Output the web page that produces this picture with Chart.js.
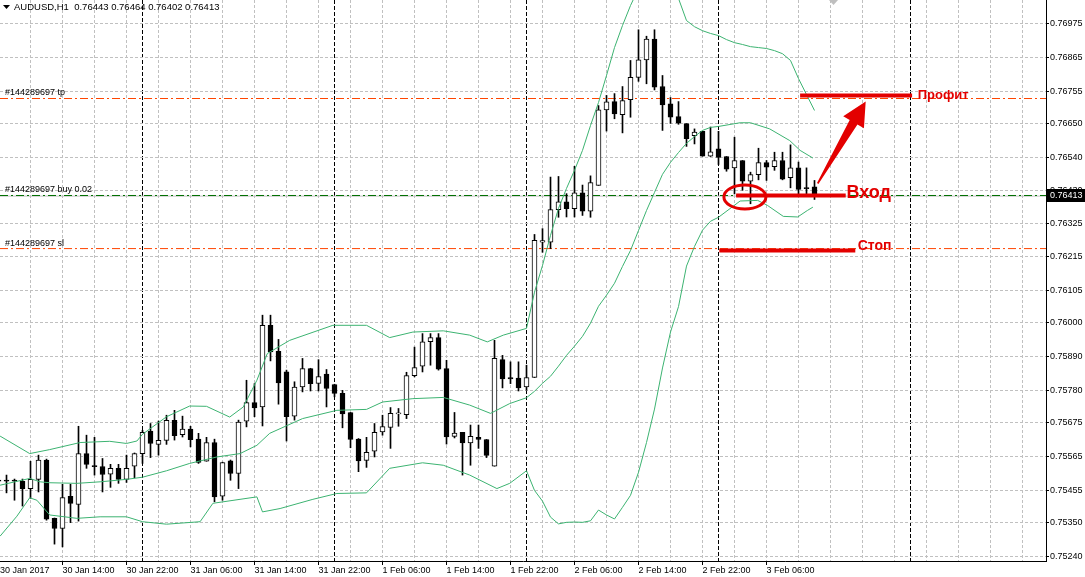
<!DOCTYPE html>
<html>
<head>
<meta charset="utf-8">
<script src="https://cdn.jsdelivr.net/npm/chart.js@4.4.0/dist/chart.umd.min.js"></script>
<style>
html, body { margin: 0; padding: 0; background: #ffffff; overflow: hidden; }
canvas { display: block; }
</style>
</head>
<body>
<canvas id="grafico" width="1085" height="577"></canvas>
<script>
// AUDUSD H1, velas desde 30 Jan 06:00 (indice -1) hasta 3 Feb 11:00 (indice 101)
let aperturas = [
    0.75488,
    0.75488, 0.75488, 0.75484, 0.75460, 0.75490, 0.75553, 0.75363, 0.75330, 0.75435, 0.75408,
    0.75574, 0.75535, 0.75532, 0.75507, 0.75526, 0.75490, 0.75533, 0.75574, 0.75647, 0.75604,
    0.75617, 0.75682, 0.75636, 0.75654, 0.75621, 0.75549, 0.75610, 0.75435, 0.75550, 0.75509,
    0.75680, 0.75740, 0.75726, 0.75992, 0.75907, 0.75840, 0.75696, 0.75791, 0.75851, 0.75803,
    0.75833, 0.75799, 0.75770, 0.75708, 0.75621, 0.75552, 0.75582, 0.75645, 0.75659, 0.75703,
    0.75701, 0.75828, 0.75859, 0.75939, 0.75952, 0.75851, 0.75630, 0.75643, 0.75609, 0.75627,
    0.75620, 0.75533, 0.75880, 0.75822, 0.75820, 0.75791, 0.75822, 0.76263, 0.76263, 0.76369,
    0.76394, 0.76372, 0.76424, 0.76364, 0.76448, 0.76694, 0.76721, 0.76678, 0.76727, 0.76800,
    0.76857, 0.76925, 0.76770, 0.76714, 0.76672, 0.76649, 0.76610, 0.76624, 0.76543, 0.76567,
    0.76542, 0.76505, 0.76529, 0.76462, 0.76483, 0.76522, 0.76509, 0.76529, 0.76473, 0.76505,
    0.76441, 0.76443
];
let maximos = [
    0.75503,
    0.75504, 0.75491, 0.75491, 0.75549, 0.75569, 0.75556, 0.75364, 0.75474, 0.75474, 0.75663,
    0.75634, 0.75627, 0.75558, 0.75539, 0.75539, 0.75569, 0.75576, 0.75650, 0.75672, 0.75680,
    0.75699, 0.75715, 0.75696, 0.75663, 0.75640, 0.75627, 0.75621, 0.75546, 0.75553, 0.75683,
    0.75813, 0.75802, 0.76025, 0.76025, 0.75946, 0.75846, 0.75808, 0.75884, 0.75852, 0.75880,
    0.75848, 0.75800, 0.75780, 0.75708, 0.75623, 0.75627, 0.75672, 0.75699, 0.75724, 0.75721,
    0.75839, 0.75921, 0.75965, 0.75965, 0.75965, 0.75878, 0.75708, 0.75643, 0.75667, 0.75667,
    0.75620, 0.75943, 0.75894, 0.75873, 0.75873, 0.75862, 0.76288, 0.76307, 0.76475, 0.76477,
    0.76421, 0.76510, 0.76449, 0.76479, 0.76708, 0.76741, 0.76747, 0.76770, 0.76855, 0.76955,
    0.76934, 0.76955, 0.76806, 0.76734, 0.76721, 0.76649, 0.76632, 0.76624, 0.76638, 0.76624,
    0.76542, 0.76605, 0.76529, 0.76491, 0.76569, 0.76529, 0.76556, 0.76556, 0.76580, 0.76524,
    0.76505, 0.76464
];
let minimos = [
    0.75471,
    0.75446, 0.75422, 0.75403, 0.75428, 0.75449, 0.75357, 0.75279, 0.75270, 0.75349, 0.75354,
    0.75526, 0.75504, 0.75449, 0.75464, 0.75477, 0.75480, 0.75495, 0.75542, 0.75561, 0.75569,
    0.75604, 0.75618, 0.75628, 0.75596, 0.75542, 0.75549, 0.75417, 0.75422, 0.75487, 0.75460,
    0.75661, 0.75694, 0.75664, 0.75876, 0.75735, 0.75615, 0.75683, 0.75775, 0.75778, 0.75778,
    0.75726, 0.75759, 0.75658, 0.75593, 0.75515, 0.75529, 0.75563, 0.75634, 0.75591, 0.75663,
    0.75688, 0.75824, 0.75840, 0.75862, 0.75846, 0.75605, 0.75625, 0.75504, 0.75536, 0.75591,
    0.75561, 0.75533, 0.75788, 0.75802, 0.75778, 0.75780, 0.75822, 0.76230, 0.76242, 0.76344,
    0.76345, 0.76345, 0.76350, 0.76344, 0.76448, 0.76625, 0.76665, 0.76619, 0.76670, 0.76787,
    0.76779, 0.76759, 0.76627, 0.76650, 0.76647, 0.76575, 0.76583, 0.76543, 0.76542, 0.76516,
    0.76494, 0.76420, 0.76432, 0.76388, 0.76466, 0.76464, 0.76497, 0.76466, 0.76440, 0.76420,
    0.76421, 0.76402
];
let cierres = [
    0.75484,
    0.75484, 0.75484, 0.75460, 0.75490, 0.75553, 0.75360, 0.75330, 0.75431, 0.75412, 0.75574,
    0.75539, 0.75531, 0.75506, 0.75526, 0.75490, 0.75526, 0.75574, 0.75643, 0.75607, 0.75617,
    0.75682, 0.75632, 0.75654, 0.75619, 0.75545, 0.75610, 0.75433, 0.75545, 0.75509, 0.75677,
    0.75740, 0.75723, 0.75992, 0.75905, 0.75804, 0.75694, 0.75791, 0.75851, 0.75802, 0.75825,
    0.75786, 0.75770, 0.75703, 0.75620, 0.75550, 0.75578, 0.75643, 0.75662, 0.75705, 0.75707,
    0.75828, 0.75854, 0.75938, 0.75952, 0.75849, 0.75628, 0.75641, 0.75609, 0.75630, 0.75620,
    0.75568, 0.75884, 0.75817, 0.75817, 0.75788, 0.75822, 0.76269, 0.76268, 0.76369, 0.76394,
    0.76372, 0.76424, 0.76364, 0.76457, 0.76694, 0.76720, 0.76681, 0.76724, 0.76800, 0.76857,
    0.76925, 0.76768, 0.76710, 0.76670, 0.76651, 0.76600, 0.76622, 0.76543, 0.76557, 0.76539,
    0.76501, 0.76529, 0.76462, 0.76483, 0.76522, 0.76507, 0.76529, 0.76468, 0.76505, 0.76435,
    0.76437, 0.76413
];

// bandas de Bollinger: [indice de vela, precio]
let bandaSuperior = [
    [-0.8, 0.75631], [2.9, 0.75574], [5.4, 0.75587], [9.2, 0.75610], [12.9, 0.75614], [15, 0.75607],
    [16.3, 0.75615], [17, 0.75637], [20, 0.75694], [22.9, 0.75729], [25, 0.75728], [27.9, 0.75693],
    [29.6, 0.75726], [31.3, 0.75813], [32.6, 0.75900], [35.4, 0.75943], [40.8, 0.75992], [45, 0.75992],
    [47.9, 0.75952], [50.8, 0.75970], [54.6, 0.75974], [57.9, 0.75960], [60.1, 0.75938], [62.1, 0.75960],
    [65, 0.75982], [66, 0.76100], [67, 0.76187], [68, 0.76285], [69, 0.76373], [70, 0.76438],
    [71, 0.76497], [72, 0.76562], [73, 0.76643], [74, 0.76718], [75, 0.76806], [76, 0.76897],
    [77, 0.76969], [78, 0.77034], [79, 0.77089], [80, 0.77122], [81, 0.77131], [82, 0.77115],
    [83, 0.77076], [84, 0.77057], [85, 0.76985], [86, 0.76965], [87, 0.76952], [88, 0.76943],
    [89, 0.76936], [90, 0.76923], [91, 0.76913], [92, 0.76907], [93, 0.76900], [94, 0.76897],
    [95, 0.76894], [96, 0.76887], [97, 0.76877], [98, 0.76855], [99, 0.76796], [100, 0.76744],
    [101, 0.76692]
];
let bandaMedia = [
    [-0.8, 0.75471], [2.9, 0.75493], [4.2, 0.75482], [5.4, 0.75479], [8.8, 0.75477], [11.7, 0.75482],
    [15, 0.75490], [17, 0.75497], [20, 0.75518], [22.9, 0.75542], [26.3, 0.75563], [29.2, 0.75574],
    [31.3, 0.75601], [32.9, 0.75640], [37, 0.75688], [41.3, 0.75715], [45, 0.75718], [47, 0.75742],
    [50.8, 0.75753], [54.6, 0.75757], [57.9, 0.75732], [60.5, 0.75705], [62.9, 0.75737],
    [65, 0.75756], [66, 0.75777], [67, 0.75803], [68, 0.75826], [69, 0.75859], [70, 0.75894],
    [71, 0.75924], [72, 0.75956], [73, 0.75999], [74, 0.76054], [75, 0.76090], [76, 0.76129],
    [77, 0.76184], [78, 0.76236], [79, 0.76301], [80, 0.76366], [81, 0.76425], [82, 0.76484],
    [83, 0.76523], [84, 0.76555], [85, 0.76585], [86, 0.76607], [87, 0.76627], [88, 0.76637],
    [89, 0.76640], [91.7, 0.76652], [93, 0.76652], [95.4, 0.76632], [97.9, 0.76594], [99.2, 0.76562],
    [100.8, 0.76537]
];
let bandaInferior = [
    [-0.8, 0.75305], [1.3, 0.75370], [2.9, 0.75430], [3.8, 0.75422], [5.4, 0.75374], [8.8, 0.75363],
    [11.7, 0.75368], [15, 0.75368], [17, 0.75352], [20, 0.75344], [24.2, 0.75352], [25.8, 0.75412],
    [31.3, 0.75433], [32, 0.75384], [34.2, 0.75395], [38.3, 0.75425], [41.3, 0.75444], [45, 0.75446],
    [47.9, 0.75526], [52, 0.75544], [54.6, 0.75536], [57.9, 0.75504], [61.3, 0.75460], [62.9, 0.75477],
    [65, 0.75518], [66, 0.75454], [67, 0.75419], [68, 0.75367], [69, 0.75345], [70, 0.75350],
    [71, 0.75351], [72, 0.75350], [73, 0.75355], [74, 0.75390], [75, 0.75374], [76, 0.75361],
    [77, 0.75399], [78, 0.75438], [79, 0.75513], [80, 0.75610], [81, 0.75719], [82, 0.75853],
    [83, 0.75970], [84, 0.76053], [85, 0.76185], [86, 0.76249], [87, 0.76302], [88, 0.76331],
    [89, 0.76344], [91.7, 0.76397], [93.9, 0.76399], [95.1, 0.76383], [97.1, 0.76347], [98.9, 0.76345],
    [100.1, 0.76366], [100.8, 0.76377]
];

let etiquetasTiempo = ['30 Jan 2017', '30 Jan 14:00', '30 Jan 22:00', '31 Jan 06:00', '31 Jan 14:00',
    '31 Jan 22:00', '1 Feb 06:00', '1 Feb 14:00', '1 Feb 22:00', '2 Feb 06:00', '2 Feb 14:00',
    '2 Feb 22:00', '3 Feb 06:00'];
let posicionesTiempo = [-1, 7, 15, 23, 31, 39, 47, 55, 63, 71, 79, 87, 95];
let separadoresDia = [17, 41, 65, 89, 113];
let preciosEje = [0.76975, 0.76865, 0.76755, 0.76650, 0.76540, 0.76430, 0.76325, 0.76215, 0.76105,
    0.76000, 0.75890, 0.75780, 0.75675, 0.75565, 0.75455, 0.75350, 0.75240];

let precioTp = 0.76731;
let precioCompra = 0.76415;
let precioSl = 0.76242;
let precioActual = 0.76413;
let textosOrden = ['#144289697 tp', '#144289697 buy 0.02', '#144289697 sl'];
let titulo = 'AUDUSD,H1  0.76443 0.76464 0.76402 0.76413';

// marcas a mano: lineas rojas [desde, hasta, precio], elipse y flecha
let lineaProfit = [99.2, 113.2, 0.76741];
let lineaEntrada = [91.2, 104.9, 0.76415];
let lineaStop = [89.1, 106.1, 0.76236];
let elipseCentro = [92.3, 0.76410];
let flechaInicio = [101.4, 0.76454];
let flechaFin = [107.4, 0.76721];
let textoProfit = ['Профит', 113.9, 0.76741];
let textoEntrada = ['Вход', 105.0, 0.76422];
let textoStop = ['Стоп', 106.4, 0.76249];

let xMin = -0.8125;
let xMax = 129.9375;
let rojo = '#E30000';

function armarVelas() {
    let cuerpos = [];
    let mechas = [];
    let colores = [];
    for (let i = 0; i < aperturas.length; i++) {
        let indice = i - 1;
        cuerpos.push({ x: indice, y: [aperturas[i], cierres[i]] });
        mechas.push({ x: indice, y: [minimos[i], maximos[i]] });
        if (cierres[i] >= aperturas[i]) {
            colores.push('#ffffff');
        } else {
            colores.push('#000000');
        }
    }
    return { cuerpos: cuerpos, mechas: mechas, colores: colores };
}

function aPuntos(lista) {
    let puntos = [];
    for (let i = 0; i < lista.length; i++) {
        puntos.push({ x: lista[i][0], y: lista[i][1] });
    }
    return puntos;
}

function lineaHorizontal(precio, color, guiones, orden) {
    return {
        type: 'line',
        data: [{ x: xMin, y: precio }, { x: xMax, y: precio }],
        borderColor: color,
        borderWidth: 1,
        borderDash: guiones,
        pointRadius: 0,
        fill: false,
        order: orden
    };
}

function lineaRoja(linea) {
    return {
        type: 'line',
        data: [{ x: linea[0], y: linea[2] }, { x: linea[1], y: linea[2] }],
        borderColor: rojo,
        borderWidth: 4,
        pointRadius: 0,
        fill: false,
        order: 0
    };
}

function marcasEjeX() {
    let marcas = [xMin];
    for (let k = 3; k < xMax; k = k + 4) {
        marcas.push(k);
    }
    for (let i = 0; i < separadoresDia.length; i++) {
        marcas.push(separadoresDia[i]);
    }
    marcas.sort(function(a, b) { return a - b; });
    return marcas.map(function(v) { return { value: v }; });
}

function etiquetaX(valor) {
    if (valor === xMin) {
        return etiquetasTiempo[0];
    }
    let pos = posicionesTiempo.indexOf(valor);
    if (pos > 0) {
        return etiquetasTiempo[pos];
    }
    return '';
}

let anotaciones = {
    id: 'anotaciones',
    afterDatasetsDraw: function(chart) {
        let ctx = chart.ctx;
        let ex = chart.scales.x;
        let ey = chart.scales.y;
        ctx.save();

        ctx.strokeStyle = rojo;
        ctx.lineWidth = 3;
        ctx.beginPath();
        ctx.ellipse(ex.getPixelForValue(elipseCentro[0]), ey.getPixelForValue(elipseCentro[1]), 21, 12, 0, 0, Math.PI * 2);
        ctx.stroke();

        let x1 = ex.getPixelForValue(flechaInicio[0]);
        let y1 = ey.getPixelForValue(flechaInicio[1]);
        let x2 = ex.getPixelForValue(flechaFin[0]);
        let y2 = ey.getPixelForValue(flechaFin[1]);
        let dx = x2 - x1;
        let dy = y2 - y1;
        let largo = Math.sqrt(dx * dx + dy * dy);
        let ux = dx / largo;
        let uy = dy / largo;
        let nx = -uy;
        let ny = ux;
        let bx = x2 - ux * 24;
        let by = y2 - uy * 24;
        ctx.fillStyle = rojo;
        ctx.beginPath();
        ctx.moveTo(x1 + nx * 0.8, y1 + ny * 0.8);
        ctx.lineTo(bx + nx * 4.5, by + ny * 4.5);
        ctx.lineTo(bx + nx * 12, by + ny * 12);
        ctx.lineTo(x2, y2);
        ctx.lineTo(bx - nx * 12, by - ny * 12);
        ctx.lineTo(bx - nx * 4.5, by - ny * 4.5);
        ctx.lineTo(x1 - nx * 0.8, y1 - ny * 0.8);
        ctx.closePath();
        ctx.fill();

        ctx.textAlign = 'left';
        ctx.textBaseline = 'middle';
        ctx.font = "bold 13px 'Liberation Sans', Arial, sans-serif";
        ctx.fillText(textoProfit[0], ex.getPixelForValue(textoProfit[1]), ey.getPixelForValue(textoProfit[2]));
        ctx.font = "bold 18px 'Liberation Sans', Arial, sans-serif";
        ctx.fillText(textoEntrada[0], ex.getPixelForValue(textoEntrada[1]), ey.getPixelForValue(textoEntrada[2]));
        ctx.font = "bold 14px 'Liberation Sans', Arial, sans-serif";
        ctx.fillText(textoStop[0], ex.getPixelForValue(textoStop[1]), ey.getPixelForValue(textoStop[2]));
        ctx.restore();
    },
    afterDraw: function(chart) {
        let ctx = chart.ctx;
        let ey = chart.scales.y;
        ctx.save();

        ctx.fillStyle = '#000000';
        ctx.beginPath();
        ctx.moveTo(3, 5);
        ctx.lineTo(10, 5);
        ctx.lineTo(6.5, 9);
        ctx.closePath();
        ctx.fill();
        ctx.font = "9.5px 'Liberation Sans', Arial, sans-serif";
        ctx.textAlign = 'left';
        ctx.textBaseline = 'middle';
        ctx.fillText(titulo, 14, 7.5);

        ctx.fillStyle = '#bfbfbf';
        ctx.beginPath();
        ctx.moveTo(829, 0);
        ctx.lineTo(838, 0);
        ctx.lineTo(833.5, 5);
        ctx.closePath();
        ctx.fill();

        let precios = [precioTp, precioCompra, precioSl];
        ctx.fillStyle = '#000000';
        ctx.font = "9px 'Liberation Sans', Arial, sans-serif";
        ctx.textBaseline = 'bottom';
        for (let i = 0; i < precios.length; i++) {
            ctx.fillText(textosOrden[i], 5, ey.getPixelForValue(precios[i]) - 1);
        }

        let py = Math.round(ey.getPixelForValue(precioActual));
        ctx.fillStyle = '#000000';
        ctx.fillRect(1047, py - 7, 38, 13);
        ctx.fillStyle = '#ffffff';
        ctx.textBaseline = 'middle';
        ctx.fillText(precioActual.toFixed(5), 1050, py);
        ctx.restore();
    }
};

let velas = armarVelas();

Chart.defaults.font.family = "'Liberation Sans', Arial, sans-serif";
Chart.defaults.font.size = 9;
Chart.defaults.color = '#000000';

new Chart(document.getElementById('grafico'), {
    type: 'bar',
    data: {
        datasets: [
            lineaRoja(lineaProfit),
            lineaRoja(lineaEntrada),
            lineaRoja(lineaStop),
            { type: 'line', data: aPuntos(bandaSuperior), borderColor: '#3CB371', borderWidth: 1, pointRadius: 0, fill: false, order: 1 },
            { type: 'line', data: aPuntos(bandaMedia), borderColor: '#3CB371', borderWidth: 1, pointRadius: 0, fill: false, order: 1 },
            { type: 'line', data: aPuntos(bandaInferior), borderColor: '#3CB371', borderWidth: 1, pointRadius: 0, fill: false, order: 1 },
            {
                type: 'bar',
                data: velas.cuerpos,
                backgroundColor: velas.colores,
                borderColor: '#000000',
                borderWidth: 1,
                borderSkipped: false,
                barThickness: 5,
                grouped: false,
                order: 2
            },
            {
                type: 'bar',
                data: velas.mechas,
                backgroundColor: '#000000',
                borderWidth: 0,
                barThickness: 1,
                grouped: false,
                order: 3
            },
            lineaHorizontal(precioTp, '#FF4500', [8, 3, 2, 3], 4),
            lineaHorizontal(precioCompra, '#007000', [8, 3, 2, 3], 4),
            lineaHorizontal(precioSl, '#FF4500', [8, 3, 2, 3], 4),
            lineaHorizontal(precioActual, '#C0C0C0', [], 5)
        ]
    },
    options: {
        responsive: false,
        animation: false,
        devicePixelRatio: 1,
        layout: { padding: 0 },
        plugins: {
            legend: { display: false },
            tooltip: { enabled: false }
        },
        scales: {
            x: {
                type: 'linear',
                position: 'bottom',
                min: xMin,
                max: xMax,
                offset: false,
                afterBuildTicks: function(escala) {
                    escala.ticks = marcasEjeX();
                },
                afterFit: function(escala) {
                    escala.height = 16;
                    escala.paddingLeft = 0;
                    escala.paddingRight = 0;
                },
                grid: {
                    offset: false,
                    lineWidth: 1,
                    drawTicks: true,
                    tickLength: 4,
                    color: function(c) {
                        if (!c.tick || c.tick.value === xMin) {
                            return 'rgba(0,0,0,0)';
                        }
                        if (separadoresDia.indexOf(c.tick.value) >= 0) {
                            return '#000000';
                        }
                        return '#C0C0C0';
                    },
                    tickColor: function(c) {
                        if (c.tick && c.tick.value !== xMin && posicionesTiempo.indexOf(c.tick.value) > 0) {
                            return '#000000';
                        }
                        return 'rgba(0,0,0,0)';
                    }
                },
                border: {
                    display: true,
                    color: '#000000',
                    width: 1,
                    dash: function(c) {
                        if (c.tick && separadoresDia.indexOf(c.tick.value) >= 0) {
                            return [4, 2];
                        }
                        return [3, 2];
                    }
                },
                ticks: {
                    autoSkip: false,
                    maxRotation: 0,
                    minRotation: 0,
                    align: 'start',
                    padding: 0,
                    color: '#000000',
                    callback: function(valor) {
                        return etiquetaX(valor);
                    }
                }
            },
            y: {
                type: 'linear',
                position: 'right',
                min: 0.75224,
                max: 0.77052,
                beginAtZero: false,
                afterBuildTicks: function(escala) {
                    escala.ticks = preciosEje.map(function(v) { return { value: v }; });
                },
                afterFit: function(escala) {
                    escala.width = 39;
                    escala.paddingTop = 0;
                    escala.paddingBottom = 0;
                },
                grid: {
                    color: '#C0C0C0',
                    lineWidth: 1,
                    drawTicks: true,
                    tickLength: 3,
                    tickColor: '#000000'
                },
                border: {
                    display: true,
                    color: '#000000',
                    width: 1,
                    dash: [3, 2]
                },
                ticks: {
                    autoSkip: false,
                    padding: 1,
                    color: '#000000',
                    callback: function(valor) {
                        return valor.toFixed(5);
                    }
                }
            }
        }
    },
    plugins: [anotaciones]
});
</script>
</body>
</html>
